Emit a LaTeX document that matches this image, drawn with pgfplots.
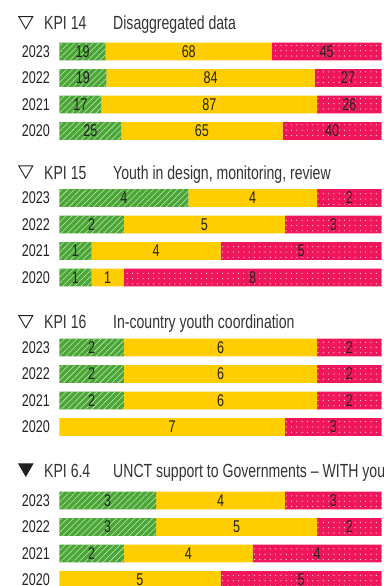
\documentclass[border=0pt]{standalone}
\usepackage{fontspec}
\setmainfont{Liberation Sans}[FakeStretch=0.74]
\usepackage{pgfplots}
\pgfplotsset{compat=1.18}
\usepackage{pgfplotstable}
\usetikzlibrary{patterns.meta}

\definecolor{kgreen}{HTML}{4BA735}
\definecolor{kyellow}{HTML}{FFCD00}
\definecolor{kred}{HTML}{F0165B}
\definecolor{ktext}{HTML}{222222}
\definecolor{ktitle}{HTML}{333333}

% KPI 14
\pgfplotstableread{
pos year g y r
3 2023 19 68 45
2 2022 19 84 27
1 2021 17 87 26
0 2020 25 65 40
}\kpiA
% KPI 15
\pgfplotstableread{
pos year g y r
3 2023 4 4 2
2 2022 2 5 3
1 2021 1 4 5
0 2020 1 1 8
}\kpiB
% KPI 16
\pgfplotstableread{
pos year g y r
3 2023 2 6 2
2 2022 2 6 2
1 2021 2 6 2
0 2020 0 7 3
}\kpiC
% KPI 6.4
\pgfplotstableread{
pos year g y r
3 2023 3 4 3
2 2022 3 5 2
1 2021 2 4 4
0 2020 0 5 5
}\kpiD

\pgfplotsset{
 panel/.style={
   xbar stacked, bar width=17.8pt,
   scale only axis, width=322.4pt, height=106pt,
   xmin=0, xmax=100, ymin=-0.5, ymax=3.5,
   anchor=south west,
   axis x line=none, axis y line*=left, y axis line style={draw=none},
   ytick={0,1,2,3}, yticklabels={2020,2021,2022,2023},
   ytick style={draw=none},
   yticklabel style={inner sep=0pt, xshift=-9.3pt, font=\fontsize{17}{17}\selectfont, text=ktext},
 },
 labels/.style={
   scale only axis, width=322.4pt, height=106pt,
   xmin=0, xmax=100, ymin=-0.5, ymax=3.5,
   anchor=south west, hide axis,
 },
 lbl/.style={only marks, mark=none, point meta=explicit symbolic,
   nodes near coords={\ifnum\pgfplotspointmeta=0 \else\pgfplotspointmeta\fi},
   every node near coord/.append style={anchor=center, inner sep=0pt, font=\fontsize{17}{17}\selectfont, text=ktext}},
 gbar/.style={fill=kgreen, draw=none, postaction={pattern={Lines[angle=45,distance=4.3pt,line width=0.55pt]}, pattern color=white!70!kgreen}},
 ybarst/.style={fill=kyellow, draw=none},
 rbar/.style={fill=kred, draw=none, postaction={pattern={Dots[distance=5.3pt,radius=0.6pt]}, pattern color=white!90!kred}},
}

\newcommand{\kpipanel}[2]{%
\begin{axis}[panel, at={(59.3pt,#2)}]
\addplot[gbar] table[x expr=\thisrow{g}/(\thisrow{g}+\thisrow{y}+\thisrow{r})*100, y=pos]{#1};
\addplot[ybarst] table[x expr=\thisrow{y}/(\thisrow{g}+\thisrow{y}+\thisrow{r})*100, y=pos]{#1};
\addplot[rbar] table[x expr=\thisrow{r}/(\thisrow{g}+\thisrow{y}+\thisrow{r})*100, y=pos]{#1};
\end{axis}
\begin{axis}[labels, at={(59.3pt,#2)}]
\addplot[lbl] table[x expr=0.5*\thisrow{g}/(\thisrow{g}+\thisrow{y}+\thisrow{r})*100, y=pos, meta=g]{#1};
\addplot[lbl] table[x expr=(\thisrow{g}+0.5*\thisrow{y})/(\thisrow{g}+\thisrow{y}+\thisrow{r})*100, y=pos, meta=y]{#1};
\addplot[lbl] table[x expr=(\thisrow{g}+\thisrow{y}+0.5*\thisrow{r})/(\thisrow{g}+\thisrow{y}+\thisrow{r})*100, y=pos, meta=r]{#1};
\end{axis}}

\newcommand{\kpititle}[4]{% baseline, fill, kpi, text
\filldraw[draw=ktext, fill=#2, line width=0.9pt, line join=miter] (18.8pt,#1+13.4pt) -- (32.8pt,#1+13.4pt) -- (25.8pt,#1+1.2pt) -- cycle;
\node[anchor=base west, inner sep=0pt, text=ktitle, font=\fontsize{19}{19}\selectfont] at (44pt,#1) {#3};
\node[anchor=base west, inner sep=0pt, text=ktitle, font=\fontsize{19}{19}\selectfont] at (113pt,#1) {#4};
}

\begin{document}
\begin{tikzpicture}
\useasboundingbox (0pt,0pt) rectangle (383pt,586pt);
\kpititle{556pt}{white}{KPI 14}{Disaggregated data}
\kpipanel{\kpiA}{441.7pt}
\kpititle{406.7pt}{white}{KPI 15}{Youth in design, monitoring, review}
\kpipanel{\kpiB}{295.2pt}
\kpititle{257pt}{white}{KPI 16}{In-country youth coordination}
\kpipanel{\kpiC}{145.8pt}
\kpititle{108.7pt}{ktext}{KPI 6.4}{UNCT support to Governments – WITH youth}
\kpipanel{\kpiD}{-7.2pt}
\end{tikzpicture}
\end{document}
